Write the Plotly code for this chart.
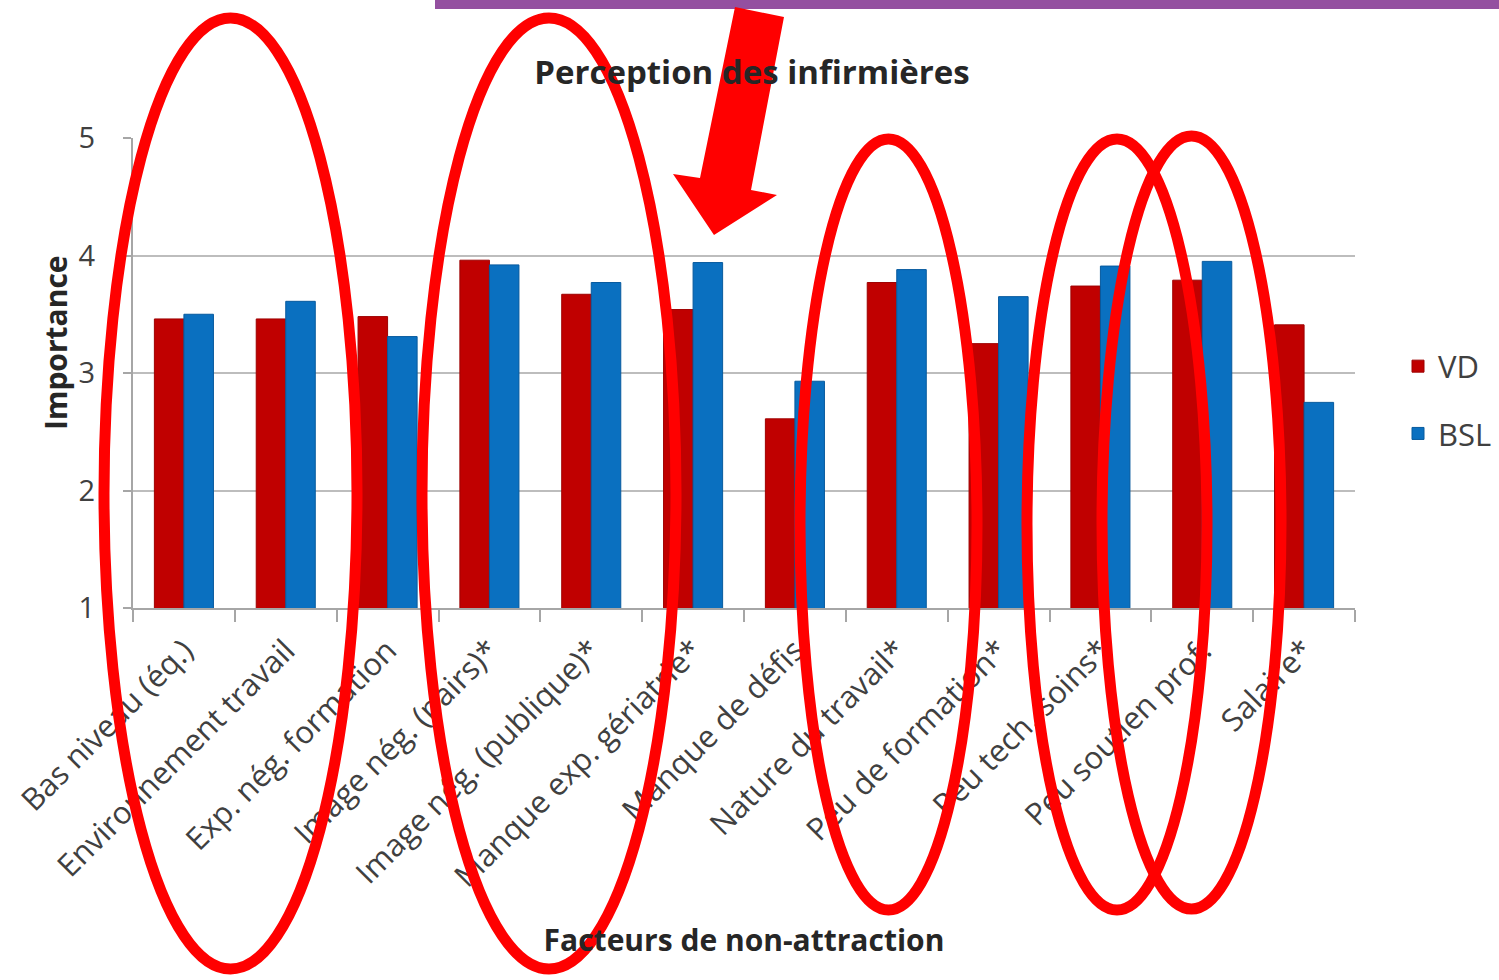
import plotly.graph_objects as go

categories = ["Bas niveau (éq.)", "Environnement travail", "Exp. nég. formation",
              "Image nég. (pairs)*", "Image nég. (publique)*", "Manque exp. gériatrie*",
              "Manque de défis", "Nature du travail*", "Peu de formation*",
              "Peu tech. soins*", "Peu soutien prof.", "Salaire*"]
vd_values = [3.46, 3.46, 3.48, 3.96, 3.67, 3.54, 2.61, 3.77, 3.25, 3.74, 3.79, 3.41]
bsl_values = [3.50, 3.61, 3.31, 3.92, 3.77, 3.94, 2.93, 3.88, 3.65, 3.91, 3.95, 2.75]
y_ticks = [1, 2, 3, 4, 5]

W, H = 1499, 980
PL, PR, PT, PB = 133, 1355, 138, 608
L, T, R, B = PL, PT, W - PR, H - PB
PW, PH = PR - PL, PB - PT

def px(x):
    return (x - PL) / PW

def py(y):
    return (PB - y) / PH

FONT = "Open Sans"
fig = go.Figure()
fig.add_trace(go.Bar(name="VD", x=categories, y=vd_values, marker_color="#C00000",
                     marker_line=dict(color="#9E0000", width=1), legendgroup="a"))
fig.add_trace(go.Bar(name="BSL", x=categories, y=bsl_values, marker_color="#0A70C0",
                     marker_line=dict(color="#075A9E", width=1), legendgroup="b"))

shapes = []
shapes.append(dict(type="rect", xref="paper", yref="paper", x0=px(435), x1=px(1510),
                   y0=py(9), y1=py(-5), fillcolor="#9450A0", line_width=0, layer="above"))
ell = [(104, 357, 18, 969), (422, 676, 18, 969), (800, 977, 139, 910),
       (1027, 1207, 139, 910), (1102, 1281, 136, 909)]
for x0, x1, y0, y1 in ell:
    shapes.append(dict(type="circle", xref="paper", yref="paper", x0=px(x0), x1=px(x1),
                       y0=py(y1), y1=py(y0), line=dict(color="#FF0000", width=11),
                       fillcolor="rgba(0,0,0,0)", layer="above"))
pts = [(735, 7), (784, 17), (751, 190), (777, 195), (714, 235), (673, 174), (700, 178)]
path = "M " + " L ".join(f"{px(a):.5f},{py(b):.5f}" for a, b in pts) + " Z"
shapes.append(dict(type="path", xref="paper", yref="paper", path=path,
                   fillcolor="#FF0000", line_width=0, layer="above"))

fig.update_layout(
    width=W, height=H,
    margin=dict(l=L, r=R, t=T, b=B, autoexpand=False),
    paper_bgcolor="white", plot_bgcolor="white",
    barmode="group", bargap=0.42, bargroupgap=0,
    font=dict(family=FONT, color="#404040"),
    title=dict(text="<b>Perception des infirmières</b>", x=px(746), xanchor="center",
               y=1 - 72 / H, yanchor="middle", font=dict(size=33, color="#262626")),
    xaxis=dict(tickangle=-45, tickfont=dict(size=31, color="#404040"),
               showline=True, linecolor="#A6A6A6", linewidth=2,
               ticks="outside", ticklen=12, tickcolor="#A6A6A6", tickwidth=2,
               tickson="boundaries", ticklabelstandoff=10,
               title=dict(text="<b>Facteurs de non-attraction</b>",
                          font=dict(size=30, color="#262626"), standoff=36)),
    yaxis=dict(range=[1, 5], tickvals=y_ticks, tickfont=dict(size=29, color="#404040"),
               showgrid=True, gridcolor="#BDBDBD", gridwidth=2,
               showline=True, linecolor="#A6A6A6", linewidth=2,
               ticks="outside", ticklen=8, tickcolor="#A6A6A6", tickwidth=2,
               ticklabelstandoff=22, zeroline=False),
    annotations=[dict(text="<b>Importance</b>", textangle=-90, xref="paper", yref="paper",
                      x=px(55), y=py(343), xanchor="center", yanchor="middle",
                      showarrow=False, font=dict(size=30, color="#262626"))],
    legend=dict(x=px(1398), xanchor="left", y=py(400), yanchor="middle",
                font=dict(size=31, color="#404040"), tracegroupgap=24,
                itemwidth=30, bgcolor="rgba(0,0,0,0)"),
    shapes=shapes,
)
fig.write_html("out.html", config={"displayModeBar": False},
               post_script="document.body.style.margin='0';")
